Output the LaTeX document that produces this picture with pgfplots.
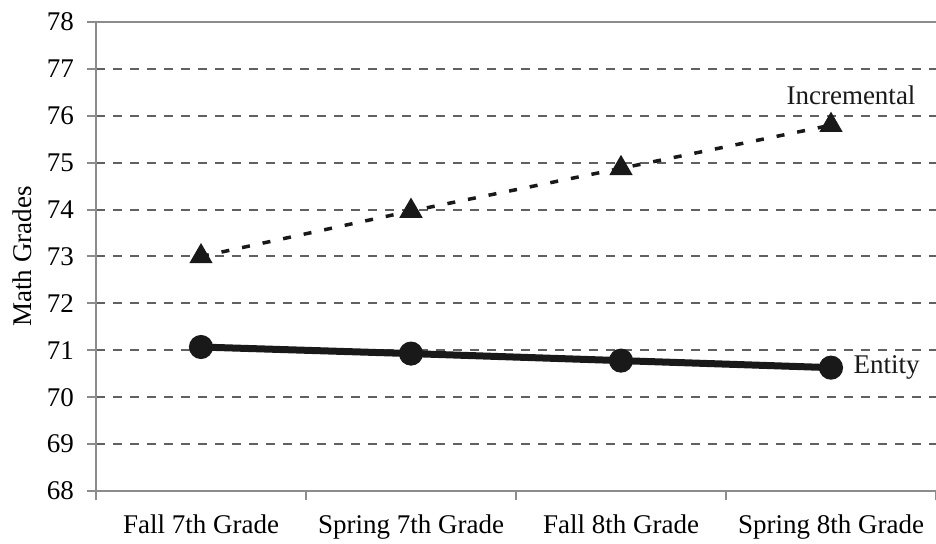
\documentclass[border=0pt]{standalone}
\usepackage{fontspec}
\setmainfont{Liberation Serif}
\usepackage{pgfplots}
\pgfplotsset{compat=1.18}
\begin{document}
\fontsize{27}{31}\selectfont
\begin{tikzpicture}
\begin{axis}[
  scale only axis, width=840pt, height=469pt,
  xmin=0.5, xmax=4.5, ymin=68, ymax=78,
  axis x line=bottom, axis y line=left,
  axis line style={draw=black!45, line width=2.5pt, -},
  /pgf/number format/assume math mode=true,
  ytick={68,69,...,78},
  xtick={1,2,3,4},
  xticklabels={Fall 7th Grade, Spring 7th Grade, Fall 8th Grade, Spring 8th Grade},
  minor xtick={0.5,1.5,2.5,3.5,4.5},
  tick align=outside,
  major tick length=9pt, minor tick length=9pt,
  xtick style={draw=none},
  minor x tick style={draw=black!45, line width=2pt},
  ytick style={draw=black!45, line width=2pt},
  ymajorgrids,
  major grid style={draw=black!62, line width=2pt, dash pattern=on 9pt off 8pt},
  ylabel={Math Grades},
  ylabel style={at={(axis description cs:-0.088,0.5)}, rotate=0, anchor=center},
  yticklabel style={xshift=-4pt},
  xticklabel style={yshift=-6pt},
  clip=false,
]
\draw[draw=black!45, line width=2pt] (rel axis cs:0,1) -- (rel axis cs:1,1);
\addplot[black!90, line width=3.5pt, dash pattern=on 8pt off 13pt, mark=triangle*, mark size=10pt, mark options={solid}]
  coordinates {(1,73.0) (2,73.97) (3,74.88) (4,75.8)}
  node[pos=1, anchor=south, xshift=20pt, yshift=10pt] {Incremental};
\addplot[black!90, line width=7pt, mark=*, mark size=8.5pt, mark options={solid}]
  coordinates {(1,71.07) (2,70.93) (3,70.78) (4,70.63)}
  node[pos=1, anchor=west, xshift=10pt] {Entity};
\end{axis}
\pgfresetboundingbox
\path[use as bounding box] ([xshift=-96pt,yshift=-52pt]current axis.south west) rectangle ([yshift=22pt]current axis.north east);
\end{tikzpicture}
\end{document}
